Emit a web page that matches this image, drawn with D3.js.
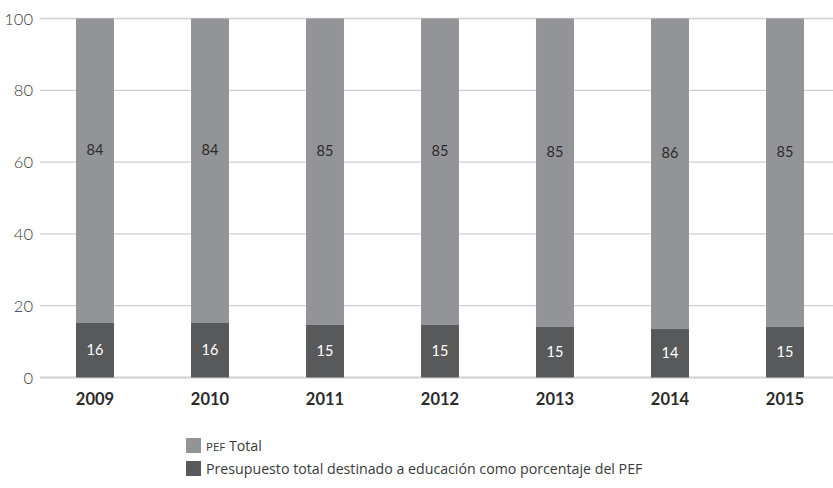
<!DOCTYPE html>
<html><head><meta charset="utf-8">
<script src="https://cdn.jsdelivr.net/npm/d3@7"></script>
<style>body{margin:0;background:#fff}svg{display:block}</style>
</head><body>
<svg id="c" width="833" height="488"></svg>
<script>
const years = ["2009","2010","2011","2012","2013","2014","2015"];
const eduValues = [15.3, 15.3, 14.7, 14.7, 14.1, 13.5, 14.1];
const eduLabels = ["16","16","15","15","15","14","15"];
const pefLabels = ["84","84","85","85","85","86","85"];
const yTicks = [0,20,40,60,80,100];
const legendNames = ["PEF Total","Presupuesto total destinado a educación como porcentaje del PEF"];
const colors = ["#939498","#58595b"];

const svg = d3.select("#c");
const font = "Lato, 'Open Sans', sans-serif";
const font2 = "'Open Sans', Lato, sans-serif";
const x = d3.scaleBand().domain(years).range([37.5, 842.5]).paddingInner(0.67).paddingOuter(0.335);
const y = d3.scaleLinear().domain([0,100]).range([377.5, 18.5]);

// grid
svg.append("g").selectAll("line").data(yTicks).join("line")
  .attr("x1",40).attr("x2",833).attr("y1",d=>y(d)).attr("y2",d=>y(d))
  .attr("stroke","#d0d0d1").attr("stroke-width",d=>d===0?2:1.3);
svg.append("g").selectAll("text").data(yTicks).join("text")
  .attr("x",33).attr("y",d=>y(d)+6).attr("text-anchor","end")
  .attr("font-family",font).attr("font-size",16.5).attr("font-weight",300).attr("fill","#3a3a3a")
  .text(d=>d);

const data = years.map((yr,i)=>({yr, edu:eduValues[i], el:eduLabels[i], pl:pefLabels[i]}));
const g = svg.append("g");
g.selectAll("rect.pef").data(data).join("rect").attr("class","pef")
  .attr("x",d=>x(d.yr)).attr("width",x.bandwidth())
  .attr("y",y(100)).attr("height",d=>y(d.edu)-y(100)).attr("fill",colors[0]);
g.selectAll("rect.edu").data(data).join("rect").attr("class","edu")
  .attr("x",d=>x(d.yr)).attr("width",x.bandwidth())
  .attr("y",d=>y(d.edu)).attr("height",d=>y(0)-y(d.edu)).attr("fill",colors[1]);
g.selectAll("text.pl").data(data).join("text").attr("class","pl")
  .attr("x",d=>x(d.yr)+x.bandwidth()/2).attr("y",d=>(y(100)+y(d.edu))/2-21+5)
  .attr("text-anchor","middle").attr("font-family",font).attr("font-size",14.5).attr("fill","#2b2b2b")
  .text(d=>d.pl);
g.selectAll("text.el").data(data).join("text").attr("class","el")
  .attr("x",d=>x(d.yr)+x.bandwidth()/2).attr("y",d=>(y(0)+y(d.edu))/2+5)
  .attr("text-anchor","middle").attr("font-family",font).attr("font-size",14.5).attr("fill","#ffffff")
  .text(d=>d.el);

// x labels
svg.append("g").selectAll("text").data(years).join("text")
  .attr("x",d=>x(d)+x.bandwidth()/2).attr("y",405).attr("text-anchor","middle")
  .attr("font-family",font).attr("font-size",16.5).attr("font-weight",700).attr("fill","#2b2b2b")
  .text(d=>d);

// legend
const lg = svg.append("g").selectAll("g").data(legendNames).join("g")
  .attr("transform",(d,i)=>`translate(186,${438+i*23})`);
lg.append("rect").attr("width",15).attr("height",15).attr("fill",(d,i)=>colors[i]);
lg.append("text").attr("x",20).attr("y",13).attr("font-family",font2).attr("font-size",14.2)
  .attr("letter-spacing",0)
  .attr("fill","#3a3a3a").text((d,i)=>i===0?null:d)
  .each(function(d,i){
    if(i===0){
      const t=d3.select(this);
      t.append("tspan").attr("font-size",11.5).text("PEF");
      t.append("tspan").text(" Total");
    }
  });
</script>
</body></html>
